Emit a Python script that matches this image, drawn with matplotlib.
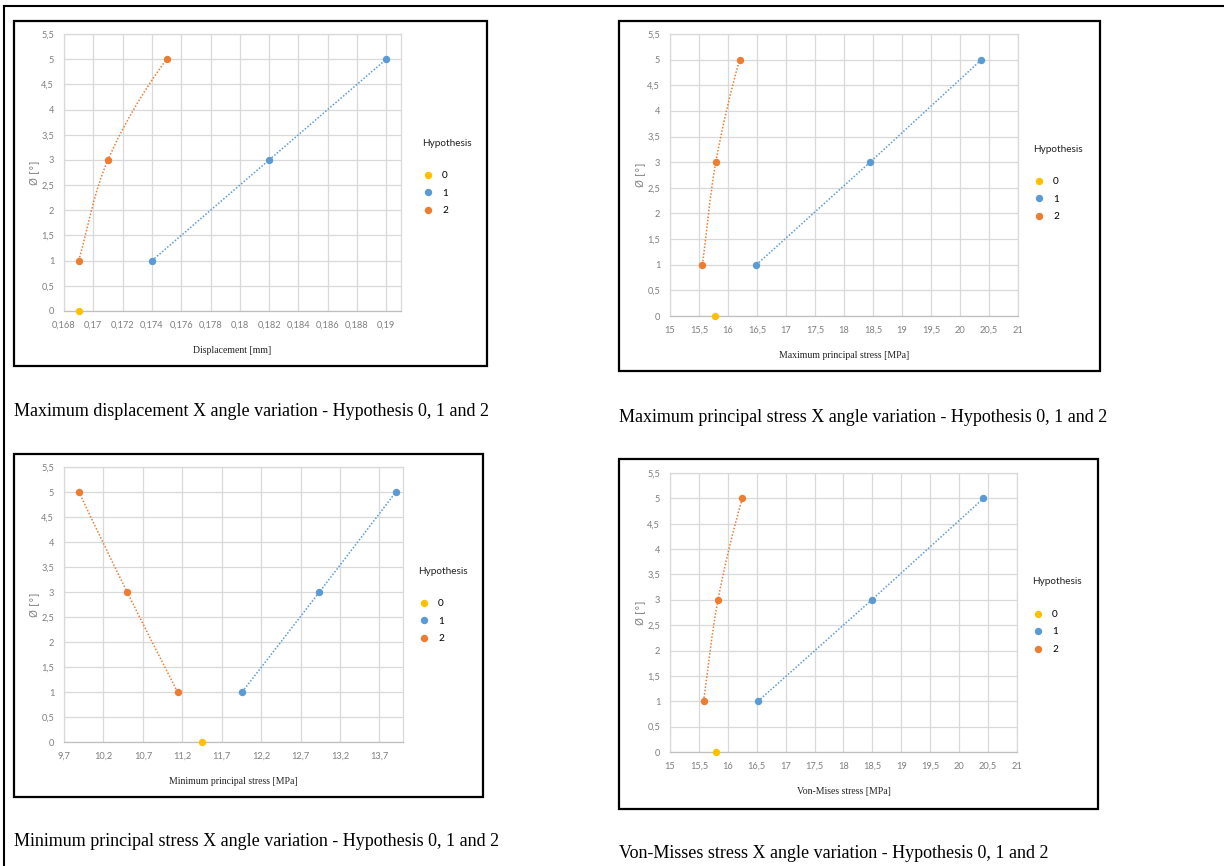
import matplotlib
matplotlib.use("Agg")
import matplotlib.pyplot as plt
from matplotlib.path import Path
from matplotlib.patches import PathPatch, Rectangle
from matplotlib.lines import Line2D
from matplotlib.ticker import FuncFormatter, MultipleLocator
import numpy as np

W, H = 1224, 866

# ---------------- data ----------------
angles = [1, 3, 5]

disp_h0 = 0.169
disp_h1 = [0.174, 0.182, 0.190]
disp_h2 = [0.169, 0.171, 0.175]

maxp_h0 = 15.77
maxp_h1 = [16.49, 18.45, 20.37]
maxp_h2 = [15.56, 15.79, 16.20]

minp_h0 = 11.45
minp_h1 = [11.96, 12.94, 13.91]
minp_h2 = [11.14, 10.50, 9.89]

vm_h0 = 15.80
vm_h1 = [16.52, 18.49, 20.42]
vm_h2 = [15.58, 15.83, 16.25]

hyp_labels = ["0", "1", "2"]

captions = [
    "Maximum displacement X angle variation - Hypothesis 0, 1 and 2",
    "Maximum principal stress X angle variation - Hypothesis 0, 1 and 2",
    "Minimum principal stress X angle variation - Hypothesis 0, 1 and 2",
    "Von-Misses stress X angle variation - Hypothesis 0, 1 and 2",
]
xlabels = ["Displacement [mm]", "Maximum principal stress [MPa]",
           "Minimum principal stress [MPa]", "Von-Mises stress [MPa]"]

C0, C1, C2 = "#FFC000", "#5B9BD5", "#ED7D31"
GRID = "#D9D9D9"
TICKC = "#7F7F7F"


def fr(x0, y0, x1, y1):
    return [x0 / W, 1 - y1 / H, (x1 - x0) / W, (y1 - y0) / H]


def smooth_path(xs, ys):
    """Smoothed line (Bezier) through the points, like a spreadsheet smoothed scatter line."""
    P = np.column_stack([xs, ys]).astype(float)
    n = len(P)
    T = np.zeros_like(P)
    for i in range(1, n - 1):
        T[i] = (P[i + 1] - P[i - 1]) / 2
    if n > 2:
        T[0] = P[1] - P[0]
        T[-1] = 2 * (P[-1] - P[-2]) - T[-2]
    else:
        T[0] = T[-1] = P[-1] - P[0]
    verts = [tuple(P[0])]
    codes = [Path.MOVETO]
    for i in range(n - 1):
        c1 = P[i] + T[i] / 3
        c2 = P[i + 1] - T[i + 1] / 3
        verts += [tuple(c1), tuple(c2), tuple(P[i + 1])]
        codes += [Path.CURVE4] * 3
    return Path(verts, codes)


fig = plt.figure(figsize=(W / 100, H / 100), dpi=100)
fig.patch.set_facecolor("white")

# outer table lines
fig.add_artist(Line2D([4 / W, 1.0], [1 - 5.5 / H, 1 - 5.5 / H], color="black", lw=1.5))
fig.add_artist(Line2D([4 / W, 4 / W], [1 - 5.5 / H, 0], color="black", lw=1.5))

panels = [
    dict(box=(14, 21, 487, 366), plot=(64, 34, 401, 311),
         xlim=(0.168, 0.191), xstep=0.002, xstart=0.168,
         h0=disp_h0, h1=disp_h1, h2=disp_h2,
         leg=(430, 143), cap=(14, 412)),
    dict(box=(619, 21, 1100, 371), plot=(670, 34, 1018, 316),
         xlim=(15, 21), xstep=0.5, xstart=15,
         h0=maxp_h0, h1=maxp_h1, h2=maxp_h2,
         leg=(1041, 149), cap=(619, 417)),
    dict(box=(14, 454, 483, 797), plot=(64, 467, 403, 742),
         xlim=(9.7, 14.0), xstep=0.5, xstart=9.7,
         h0=minp_h0, h1=minp_h1, h2=minp_h2,
         leg=(426, 571), cap=(14, 841)),
    dict(box=(619, 459, 1098, 809), plot=(670, 473, 1017, 752),
         xlim=(15, 21), xstep=0.5, xstart=15,
         h0=vm_h0, h1=vm_h1, h2=vm_h2,
         leg=(1040, 582), cap=(619, 854)),
]


def fmt(v, pos):
    s = "%g" % round(v, 6)
    return s.replace(".", ",")


for i, p in enumerate(panels):
    bx0, by0, bx1, by1 = p["box"]
    fig.add_artist(Rectangle((bx0 / W, 1 - by1 / H), (bx1 - bx0) / W, (by1 - by0) / H,
                             transform=fig.transFigure, fill=False,
                             edgecolor="black", lw=1.6))
    ax = fig.add_axes(fr(*p["plot"]))
    ax.set_xlim(*p["xlim"])
    ax.set_ylim(0, 5.5)
    xt = np.arange(p["xstart"], p["xlim"][1] + 1e-9, p["xstep"])
    ax.set_xticks(xt)
    ax.yaxis.set_major_locator(MultipleLocator(0.5))
    ax.xaxis.set_major_formatter(FuncFormatter(fmt))
    ax.yaxis.set_major_formatter(FuncFormatter(fmt))
    ax.grid(True, color=GRID, lw=0.9)
    ax.set_axisbelow(True)
    for sp in ax.spines.values():
        sp.set_color(GRID)
        sp.set_linewidth(0.9)
    ax.spines["bottom"].set_color("#BFBFBF")
    ax.tick_params(length=0, labelsize=6.7, colors=TICKC, pad=7)
    for lab in ax.get_xticklabels() + ax.get_yticklabels():
        lab.set_fontfamily("Lato")

    # series 1 (straight dotted)
    ax.plot(p["h1"], angles, color=C1, lw=1.1, ls=(0, (1, 1.2)), zorder=2)
    # series 2 (smoothed dotted)
    path = smooth_path(p["h2"], angles)
    ax.add_patch(PathPatch(path, fill=False, edgecolor=C2, lw=1.1,
                           ls=(0, (1, 1.2)), zorder=2))
    ax.plot([p["h0"]], [0], "o", color=C0, ms=4.3, zorder=3, clip_on=False)
    ax.plot(p["h1"], angles, "o", color=C1, ms=4.3, ls="none", zorder=3)
    ax.plot(p["h2"], angles, "o", color=C2, ms=4.3, ls="none", zorder=3)

    ax.set_xlabel(xlabels[i], fontfamily="Liberation Serif", fontsize=7,
                  color="#222222", labelpad=12)
    ax.set_ylabel("Ø [°]", fontfamily="DejaVu Sans", fontsize=7.3, color=TICKC,
                  labelpad=1)

    # legend
    lx, ly = p["leg"]
    fig.text((lx - 8) / W, 1 - ly / H, "Hypothesis", fontfamily="Lato",
             fontsize=7.2, color="#222222", va="center", ha="left")
    handles = [Line2D([], [], marker="o", ls="none", color=c, ms=4.3)
               for c in (C0, C1, C2)]
    ax.legend(handles, hyp_labels, loc="upper left",
              bbox_to_anchor=((lx - 13) / W, 1 - (ly + 21) / H),
              bbox_transform=fig.transFigure, frameon=False,
              prop={"family": "Lato", "size": 7.2}, labelspacing=0.85,
              handlelength=0.8, handletextpad=1.0, borderpad=0.2)

    cx, cy = p["cap"]
    fig.text(cx / W, 1 - cy / H, captions[i], fontfamily="Liberation Serif",
             fontsize=13, color="black", va="center", ha="left")

fig.savefig("out.png", dpi=100, facecolor="white")
